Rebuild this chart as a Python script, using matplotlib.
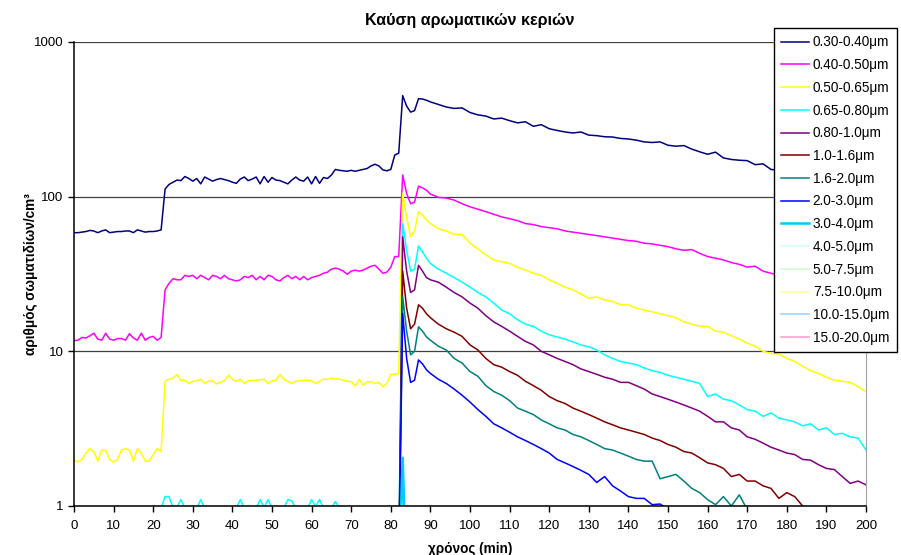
import matplotlib
matplotlib.use("Agg")
import matplotlib.pyplot as plt
from matplotlib.ticker import FixedLocator, FixedFormatter, NullLocator

plt.rcParams['font.family'] = ['Liberation Sans', 'DejaVu Sans']

# sampling times (min): every minute up to 90, then every 2 minutes
t_full = list(range(0, 91)) + list(range(92, 201, 2))
t_burst = list(range(82, 91)) + list(range(92, 201, 2))
t_spike = [82, 83, 84]

navy = [58.5, 58.5, 59, 59.5, 60.5, 60, 58.5, 60, 61, 58.5,
        59, 59.5, 59.5, 60, 60, 58.5, 61, 60, 59, 59.5,
        59.5, 60, 61, 112, 120, 124, 128, 127, 135, 131,
        126, 131, 121, 134, 130, 126, 129, 131, 129, 127,
        124, 122, 130, 134, 127, 130, 134, 121, 135, 124,
        133, 128, 127, 124, 121, 128, 134, 128, 126, 134,
        121, 135, 122, 133, 131, 138, 150, 148, 147, 146,
        148, 146, 148, 150, 152, 158, 162, 158, 149, 147,
        150, 186, 191, 450, 385, 352, 360, 430, 428, 420, 410,
        395, 380, 372, 375, 350, 338, 332, 318, 322, 310,
        300, 305, 285, 292, 275, 268, 262, 258, 262, 250,
        248, 244, 243, 238, 236, 232, 226, 224, 226, 215,
        212, 214, 203, 195, 188, 194, 178, 174, 172, 171,
        161, 163, 150, 148, 145, 141, 138, 135, 133, 130,
        127, 124, 121, 119, 116]

magenta = [11.7, 11.8, 12.3, 12.2, 12.6, 13.1, 12.0, 11.8, 13.1, 12.0,
           11.8, 12.1, 12.1, 11.8, 13.0, 12.2, 11.8, 13.1, 11.8, 12.3,
           12.5, 11.8, 12.3, 25, 27.5, 29.5, 29, 29, 31, 30.5,
           31, 29.5, 31, 30, 29, 31, 30.5, 29.5, 31, 29.5,
           29, 28.5, 29, 30.5, 30, 31, 29, 30.5, 29, 31,
           30.5, 29, 28.5, 30, 31, 29.5, 30.5, 29, 30.5, 29,
           30, 30.5, 31, 32, 32.5, 34, 34.5, 34, 33, 31.5,
           33, 33.5, 33, 33.5, 34.5, 35.5, 36, 34, 32, 32.5,
           35, 41, 41, 138, 105, 90, 92, 117, 114, 110, 104,
           99, 98, 95, 90, 86, 83, 80, 77, 74, 72,
           70, 67, 66, 64, 63, 62, 60, 59, 58, 57,
           56, 55, 54, 53, 52, 51.5, 50, 49.5, 48.5, 47.5,
           46, 45, 45.5, 43, 41, 40, 39, 37.5, 36.5, 35,
           35.5, 33, 32, 31, 30, 29, 28, 27.5, 26.5, 25.5,
           25, 24, 23.5, 23, 22]

yellow = [1.98, 1.93, 2.0, 2.2, 2.36, 2.25, 1.95, 2.3, 2.3, 2.0,
          1.92, 2.0, 2.3, 2.35, 2.3, 1.95, 2.35, 2.2, 1.95, 1.95,
          2.15, 2.35, 2.25, 6.4, 6.6, 6.7, 7.1, 6.5, 6.5, 6.2,
          6.4, 6.45, 6.6, 6.2, 6.4, 6.45, 6.15, 6.3, 6.5, 7.0,
          6.6, 6.4, 6.6, 6.2, 6.45, 6.5, 6.5, 6.55, 6.6, 6.2,
          6.45, 6.5, 7.1, 6.6, 6.4, 6.2, 6.4, 6.45, 6.5, 6.5,
          6.45, 6.2, 6.4, 6.6, 6.6, 6.7, 6.65, 6.6, 6.5, 6.4,
          6.35, 5.95, 6.6, 6.05, 6.35, 6.35, 6.2, 6.3, 5.9, 6.2,
          7.1, 7.1, 7.2, 105, 74, 55, 60, 80, 76, 71, 67,
          62, 60, 57, 57, 50, 46, 42, 39, 38, 37,
          35, 33.5, 32, 31, 29, 27.5, 26, 25, 23.5, 22,
          22.5, 21.5, 21, 20, 20, 19, 18.5, 18, 17.5, 17,
          16.5, 15.5, 15, 14.5, 14.5, 13.5, 13.3, 12.6, 12, 11.3,
          10.8, 10, 9.7, 9.6, 9.0, 8.6, 8.0, 7.5, 7.2, 6.8,
          6.5, 6.4, 6.3, 5.9, 5.5]

cyan = [0.5, 0.5, 0.5, 0.5, 0.5, 0.5, 0.5, 0.5, 0.5, 0.5,
        0.5, 0.5, 0.5, 0.5, 0.5, 0.5, 0.5, 0.5, 0.5, 0.5,
        0.5, 0.5, 0.97, 1.15, 1.15, 0.97, 0.98, 1.1, 0.97, 0.5,
        0.5, 0.97, 1.1, 0.97, 0.5, 0.5, 0.5, 0.5, 0.5, 0.5,
        0.5, 0.97, 1.1, 0.97, 0.5, 0.5, 0.97, 1.1, 0.98, 1.1,
        0.97, 0.5, 0.5, 0.97, 1.1, 1.08, 0.97, 0.5, 0.5, 0.97,
        1.1, 0.99, 1.1, 0.97, 0.5, 0.97, 1.07, 0.97, 0.5, 0.5,
        0.5, 0.5, 0.5, 0.5, 0.5, 0.5, 0.5, 0.5, 0.5, 0.5,
        0.5, 0.5, 0.5, 67, 45, 33, 34, 48, 44, 40, 37,
        34, 32, 30, 28, 26, 24, 22.5, 20.5, 18.5, 17.5,
        16, 15, 14.5, 13.5, 12.8, 12.4, 12, 11.5, 11, 10.7,
        10.2, 9.5, 9, 8.6, 8.4, 8.2, 7.8, 7.5, 7.3, 7.0,
        6.8, 6.6, 6.4, 6.2, 5.1, 5.3, 4.9, 4.8, 4.5, 4.2,
        4.1, 3.8, 4.0, 3.7, 3.6, 3.5, 3.3, 3.4, 3.1, 3.2,
        2.9, 2.95, 2.8, 2.75, 2.3]

purple = [0.4, 55, 33, 24, 25, 36, 33, 30, 29,
          28, 26, 24, 22.5, 20.5, 19, 17, 15.5, 14.5, 13.5,
          12.5, 11.6, 11, 10, 9.5, 9.0, 8.6, 8.2, 7.7, 7.4,
          7.1, 6.8, 6.6, 6.3, 6.3, 6.0, 5.7, 5.3, 5.1, 4.9,
          4.7, 4.5, 4.3, 4.1, 3.8, 3.5, 3.5, 3.2, 3.1, 2.8,
          2.7, 2.55, 2.4, 2.3, 2.2, 2.15, 2.0, 1.98, 1.85, 1.75,
          1.72, 1.55, 1.4, 1.45, 1.37]

darkred = [0.4, 33, 19, 14, 15, 20, 19, 17.5, 16.5,
           15, 14, 13.3, 12.5, 11, 10.2, 9.0, 8.2, 7.9, 7.4,
           7.0, 6.4, 6.0, 5.6, 5.1, 4.8, 4.6, 4.3, 4.1, 3.9,
           3.7, 3.5, 3.35, 3.2, 3.1, 3.0, 2.9, 2.75, 2.65, 2.5,
           2.4, 2.25, 2.2, 2.05, 1.9, 1.85, 1.75, 1.55, 1.6, 1.45,
           1.45, 1.35, 1.3, 1.12, 1.22, 1.15, 1.0, 0.95, 0.85, 0.8,
           0.75, 0.7, 0.7, 0.65, 0.6]

teal = [0.4, 22.5, 13.5, 9.5, 10, 14.4, 13.5, 12.4, 11.8,
        10.8, 10.2, 9.0, 8.4, 7.4, 6.9, 6.0, 5.5, 5.2, 4.8,
        4.3, 4.1, 3.9, 3.6, 3.4, 3.2, 3.1, 2.9, 2.8, 2.65,
        2.5, 2.35, 2.3, 2.2, 2.1, 2.0, 1.95, 1.95, 1.5, 1.55,
        1.6, 1.45, 1.3, 1.22, 1.1, 1.02, 1.15, 1.0, 1.18, 0.95,
        0.8, 0.7, 0.65, 0.6, 0.6, 0.55, 0.55, 0.5, 0.5, 0.5,
        0.45, 0.45, 0.45, 0.4, 0.4]

blue = [0.4, 17.6, 9, 6.3, 6.5, 8.8, 8.3, 7.6, 7.2,
        6.6, 6.2, 5.7, 5.2, 4.7, 4.2, 3.8, 3.4, 3.2, 3.0,
        2.8, 2.65, 2.5, 2.35, 2.2, 2.0, 1.9, 1.8, 1.7, 1.6,
        1.42, 1.55, 1.35, 1.25, 1.15, 1.12, 1.12, 1.02, 1.03, 0.95,
        0.8, 0.7, 0.65, 0.6, 0.55, 0.5, 0.5, 0.45, 0.45, 0.4,
        0.4, 0.4, 0.35, 0.35, 0.35, 0.3, 0.3, 0.3, 0.3, 0.3,
        0.3, 0.3, 0.3, 0.3, 0.3]

# coarse fractions only show up briefly at the burst
sky = [0.3, 2.05, 0.3]
pale_cyan = [0.2, 0.7, 0.2]
pale_green = [0.2, 0.6, 0.2]
pale_yellow = [0.2, 0.5, 0.2]
light_blue = [0.2, 0.4, 0.2]
pink = [0.2, 0.3, 0.2]

labels = ['0.30-0.40μm', '0.40-0.50μm', '0.50-0.65μm', '0.65-0.80μm',
          '0.80-1.0μm', '1.0-1.6μm', '1.6-2.0μm', '2.0-3.0μm',
          '3.0-4.0μm', '4.0-5.0μm', '5.0-7.5μm', '7.5-10.0μm',
          '10.0-15.0μm', '15.0-20.0μm']

series = [
    (t_full, navy, '#000080', 1.1),
    (t_full, magenta, '#FF00FF', 1.1),
    (t_full, yellow, '#FFFF00', 1.1),
    (t_full, cyan, '#00FFFF', 1.1),
    (t_burst, purple, '#800080', 1.1),
    (t_burst, darkred, '#800000', 1.1),
    (t_burst, teal, '#008080', 1.1),
    (t_burst, blue, '#0000FF', 1.1),
    (t_spike, sky, '#00CCFF', 1.8),
    (t_spike, pale_cyan, '#CCFFFF', 1.1),
    (t_spike, pale_green, '#CCFFCC', 1.1),
    (t_spike, pale_yellow, '#FFFF99', 1.1),
    (t_spike, light_blue, '#99CCFF', 1.1),
    (t_spike, pink, '#FF99CC', 1.1),
]

fig = plt.figure(figsize=(9.01, 5.55), dpi=100)
ax = fig.add_axes([74 / 901, 1 - 506 / 555, 792 / 901, 464 / 555])

handles = []
for (tt, vals, col, lw), lab in zip(series, labels):
    h, = ax.plot(tt, vals, color=col, linewidth=lw, label=lab)
    handles.append(h)

ax.set_yscale('log')
ax.set_xlim(0, 200)
ax.set_ylim(1, 1000)

ax.yaxis.set_major_locator(FixedLocator([1, 10, 100, 1000]))
ax.yaxis.set_major_formatter(FixedFormatter(['1', '10', '100', '1000']))
ax.yaxis.set_minor_locator(NullLocator())
ax.set_xticks(range(0, 201, 10))

ax.grid(True, axis='y', color='#404040', linewidth=0.9)
ax.set_axisbelow(True)
ax.tick_params(axis='both', direction='out', length=4, width=1,
               labelsize=9.5, colors='black')
ax.tick_params(axis='x', pad=6)

ax.spines['top'].set_visible(False)
ax.spines['right'].set_color('#a0a0a0')
ax.spines['left'].set_linewidth(1.1)
ax.spines['bottom'].set_linewidth(1.1)

ax.set_title('Καύση αρωματικών κεριών', fontsize=11.5, fontweight='bold', pad=12)
ax.set_xlabel('χρόνος (min)', fontsize=9.8, fontweight='bold', labelpad=7)
ax.set_ylabel('αριθμός σωματιδίων/cm³', fontsize=9.8, fontweight='bold')
ax.yaxis.set_label_coords(-0.046, 0.5)

leg = fig.legend(handles=handles, loc='upper left',
                 bbox_to_anchor=(774 / 901, 1 - 28 / 555),
                 fontsize=9.8, frameon=True, fancybox=False, framealpha=1,
                 edgecolor='black', handlelength=2.0, handletextpad=0.3,
                 labelspacing=0.64, borderpad=0.55, borderaxespad=0)
leg.get_frame().set_linewidth(1.0)

fig.savefig('out.png', dpi=100)
